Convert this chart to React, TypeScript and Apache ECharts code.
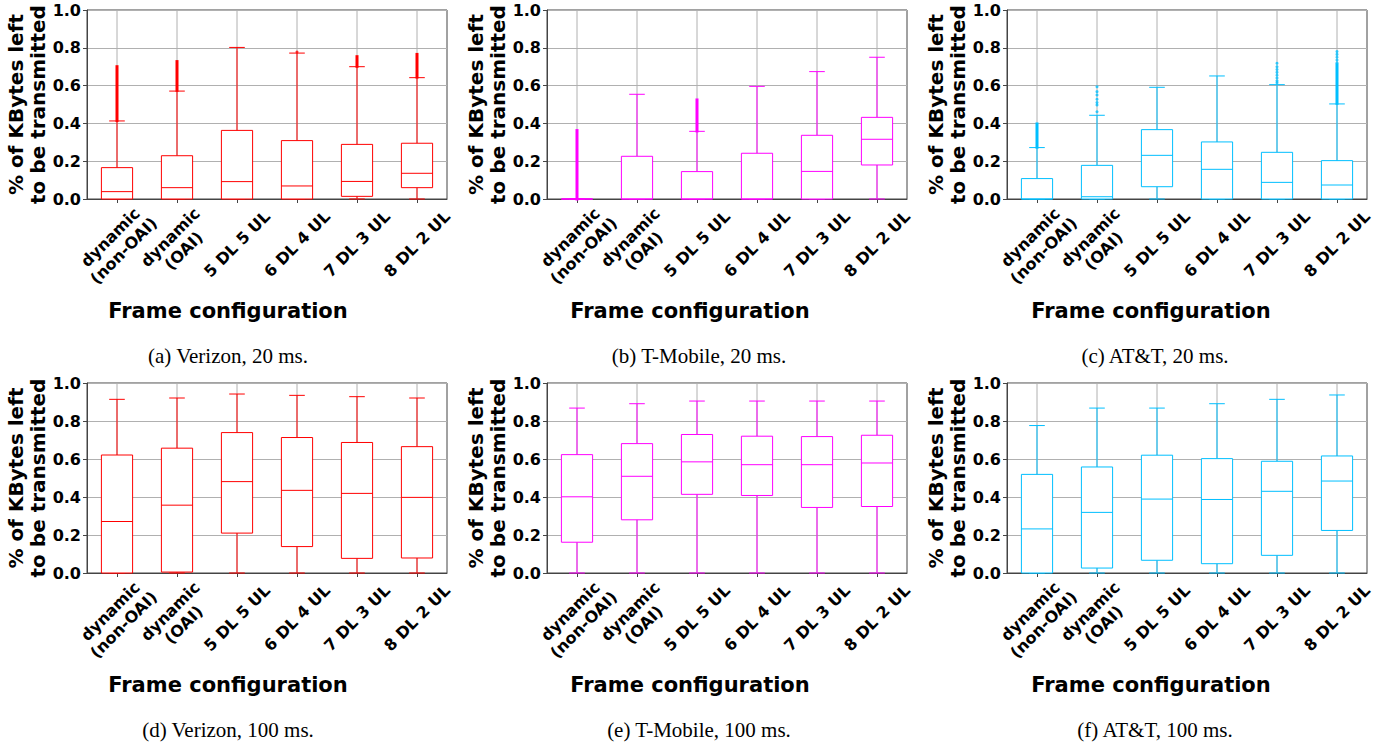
import React, { useEffect, useRef } from "react";
import * as echarts from "echarts";

// ---------- DATA ----------
const categories = [
  "dynamic\n(non-OAI)",
  "dynamic\n(OAI)",
  "5 DL 5 UL",
  "6 DL 4 UL",
  "7 DL 3 UL",
  "8 DL 2 UL",
];
const yAxisTitle = "% of KBytes left\nto be transmitted";
const xAxisTitle = "Frame configuration";

// each row: [lower whisker, Q1, median, Q3, upper whisker]
const verizon20 = [
  [0, 0, 0.039, 0.166, 0.413],
  [0, 0, 0.06, 0.229, 0.571],
  [0, 0, 0.092, 0.363, 0.802],
  [0, 0, 0.069, 0.309, 0.772],
  [0, 0.014, 0.093, 0.289, 0.7],
  [0, 0.06, 0.136, 0.295, 0.642],
];
const tmobile20 = [
  [0, 0, 0, 0, 0],
  [0, 0, 0, 0.226, 0.554],
  [0, 0, 0, 0.145, 0.358],
  [0, 0, 0, 0.242, 0.596],
  [0, 0, 0.146, 0.337, 0.674],
  [0, 0.18, 0.316, 0.432, 0.75],
];
const att20 = [
  [0, 0, 0, 0.108, 0.272],
  [0, 0, 0.012, 0.178, 0.443],
  [0, 0.065, 0.231, 0.367, 0.591],
  [0, 0, 0.157, 0.302, 0.651],
  [0, 0, 0.088, 0.247, 0.605],
  [0, 0, 0.074, 0.203, 0.503],
];
const verizon100 = [
  [0, 0, 0.271, 0.621, 0.914],
  [0, 0.005, 0.357, 0.657, 0.921],
  [0, 0.21, 0.481, 0.739, 0.942],
  [0, 0.139, 0.435, 0.713, 0.935],
  [0, 0.077, 0.419, 0.687, 0.928],
  [0, 0.079, 0.398, 0.665, 0.921],
];
const tmobile100 = [
  [0, 0.162, 0.401, 0.623, 0.868],
  [0, 0.28, 0.509, 0.681, 0.891],
  [0, 0.414, 0.585, 0.729, 0.905],
  [0, 0.408, 0.57, 0.72, 0.905],
  [0, 0.345, 0.57, 0.718, 0.905],
  [0, 0.35, 0.579, 0.725, 0.905],
];
const att100 = [
  [0, 0, 0.232, 0.519, 0.776],
  [0, 0.026, 0.319, 0.558, 0.868],
  [0, 0.067, 0.389, 0.62, 0.868],
  [0, 0.049, 0.387, 0.602, 0.891],
  [0, 0.093, 0.43, 0.588, 0.914],
  [0, 0.224, 0.484, 0.616, 0.937],
];

// dense outlier streaks: [category index, lowest outlier, highest outlier]
const verizon20Streaks = [
  [0, 0.415, 0.7],
  [1, 0.575, 0.727],
  [4, 0.702, 0.753],
  [5, 0.645, 0.765],
];
const tmobile20Streaks = [
  [0, 0.0, 0.362],
  [2, 0.36, 0.524],
];
const att20Streaks = [
  [0, 0.274, 0.397],
  [5, 0.506, 0.71],
];
// sparse single outliers: [category index, value]
const verizon20Dots = [[3, 0.778]];
const att20Dots = [
  [1, 0.462], [1, 0.497], [1, 0.51], [1, 0.528], [1, 0.55], [1, 0.568], [1, 0.594],
  [4, 0.615], [4, 0.625], [4, 0.64], [4, 0.655], [4, 0.67], [4, 0.685], [4, 0.7], [4, 0.718],
  [5, 0.72], [5, 0.735], [5, 0.75], [5, 0.765], [5, 0.78],
];

const captions = [
  "(a) Verizon, 20 ms.",
  "(b) T-Mobile, 20 ms.",
  "(c) AT&T, 20 ms.",
  "(d) Verizon, 100 ms.",
  "(e) T-Mobile, 100 ms.",
  "(f) AT&T, 100 ms.",
];

const RED = "#ff0000";
const MAGENTA = "#ff00ff";
const CYAN = "#00bfff";

const panels = [
  { stats: verizon20, streaks: verizon20Streaks, dots: verizon20Dots, color: RED },
  { stats: tmobile20, streaks: tmobile20Streaks, dots: [], color: MAGENTA },
  { stats: att20, streaks: att20Streaks, dots: att20Dots, color: CYAN },
  { stats: verizon100, streaks: [], dots: [], color: RED },
  { stats: tmobile100, streaks: [], dots: [], color: MAGENTA },
  { stats: att100, streaks: [], dots: [], color: CYAN },
];

// ---------- LAYOUT ----------
const COL_LEFT = [87, 547, 1007];
const PLOT_W = 360;
const ROW_TOP = [10, 383];
const ROW_H = [189, 190];
const XNAME_X = [228, 690, 1151];
const XNAME_Y = [311, 685];
const CAP_X = [228, 699, 1155];
const CAP_Y = [356, 730];
const FONT = "DejaVu Sans";
const AXIS_C = "#444";

export default function App() {
  const ref = useRef<HTMLDivElement>(null);

  useEffect(() => {
    const chart = echarts.init(ref.current!, null, { renderer: "svg" });
    const grids: any[] = [];
    const xAxes: any[] = [];
    const yAxes: any[] = [];
    const series: any[] = [];
    const graphics: any[] = [];

    panels.forEach((p, i) => {
      const col = i % 3;
      const row = Math.floor(i / 3);
      grids.push({
        left: COL_LEFT[col],
        top: ROW_TOP[row],
        width: PLOT_W,
        height: ROW_H[row],
        show: true,
        borderColor: AXIS_C,
        borderWidth: 1,
        backgroundColor: "transparent",
      });
      xAxes.push({
        gridIndex: i,
        type: "category",
        boundaryGap: true,
        data: categories,
        axisLine: { show: true, lineStyle: { color: AXIS_C, width: 1 } },
        axisTick: { show: true, alignWithLabel: true, length: 4, lineStyle: { color: AXIS_C } },
        axisLabel: {
          interval: 0,
          rotate: 45,
          align: "center",
          verticalAlign: "middle",
          margin: 45,
          fontFamily: FONT,
          fontWeight: "bold",
          fontSize: 16,
          lineHeight: 19,
          color: "#000",
        },
        splitLine: { show: false },
      });
      yAxes.push({
        gridIndex: i,
        type: "value",
        min: 0,
        max: 1,
        interval: 0.2,
        axisLine: { show: true, lineStyle: { color: AXIS_C, width: 1 } },
        axisTick: { show: true, length: 4, lineStyle: { color: AXIS_C } },
        axisLabel: {
          formatter: (v: number) => v.toFixed(1),
          fontFamily: FONT,
          fontWeight: "bold",
          fontSize: 16,
          color: "#000",
          margin: 6,
        },
        splitLine: { show: true, lineStyle: { color: "#b0b0b0", width: 1 } },
        name: yAxisTitle,
        nameLocation: "middle",
        nameRotate: 90,
        nameGap: 38,
        nameTextStyle: {
          fontFamily: FONT,
          fontWeight: "bold",
          fontSize: 20,
          lineHeight: 22,
          color: "#000",
        },
      });

      const color = p.color;
      series.push({
        type: "custom",
        xAxisIndex: i,
        yAxisIndex: i,
        z: 2,
        encode: { x: 0, y: [1, 2, 3, 4, 5] },
        data: p.stats.map((s, k) => [k, ...s]),
        renderItem: (params: any, api: any) => {
          const idx = api.value(0);
          const lo = api.value(1);
          const q1 = api.value(2);
          const med = api.value(3);
          const q3 = api.value(4);
          const hi = api.value(5);
          const cx = api.coord([idx, 0])[0];
          const y = (v: number) => api.coord([idx, v])[1];
          const band = api.size([1, 0])[0];
          const bw = band * 0.52;
          const cw = bw / 2;
          const ls = { stroke: color, lineWidth: 1 };
          return {
            type: "group",
            children: [
              {
                type: "line",
                shape: { x1: cx, y1: y(0), x2: cx, y2: y(1) },
                style: { stroke: "#b0b0b0", lineWidth: 1 },
              },
              { type: "line", shape: { x1: cx, y1: y(q3), x2: cx, y2: y(hi) }, style: ls },
              { type: "line", shape: { x1: cx, y1: y(q1), x2: cx, y2: y(lo) }, style: ls },
              { type: "line", shape: { x1: cx - cw / 2, y1: y(hi), x2: cx + cw / 2, y2: y(hi) }, style: ls },
              { type: "line", shape: { x1: cx - cw / 2, y1: y(lo), x2: cx + cw / 2, y2: y(lo) }, style: ls },
              {
                type: "rect",
                shape: { x: cx - bw / 2, y: y(q3), width: bw, height: y(q1) - y(q3) },
                style: { fill: "#fff", stroke: color, lineWidth: 1 },
              },
              { type: "line", shape: { x1: cx - bw / 2, y1: y(med), x2: cx + bw / 2, y2: y(med) }, style: ls },
            ],
          };
        },
      });
      if (p.streaks.length) {
        series.push({
          type: "custom",
          xAxisIndex: i,
          yAxisIndex: i,
          z: 3,
          encode: { x: 0, y: [1, 2] },
          data: p.streaks,
          renderItem: (params: any, api: any) => {
            const idx = api.value(0);
            const lo = api.value(1);
            const hi = api.value(2);
            const cx = api.coord([idx, 0])[0];
            const yl = api.coord([idx, lo])[1];
            const yh = api.coord([idx, hi])[1];
            return {
              type: "rect",
              shape: { x: cx - 1.5, y: yh - 1.5, width: 3, height: yl - yh + 3 },
              style: { fill: color },
            };
          },
        });
      }
      if (p.dots.length) {
        series.push({
          type: "scatter",
          xAxisIndex: i,
          yAxisIndex: i,
          z: 3,
          symbol: "circle",
          symbolSize: 3,
          itemStyle: { color },
          data: p.dots,
        });
      }

      graphics.push({
        type: "text",
        x: XNAME_X[col],
        y: XNAME_Y[row],
        style: {
          text: xAxisTitle,
          fontFamily: FONT,
          fontWeight: "bold",
          fontSize: 21,
          fill: "#000",
          align: "center",
          verticalAlign: "middle",
        },
      });
      graphics.push({
        type: "text",
        x: CAP_X[col],
        y: CAP_Y[row],
        style: {
          text: captions[i],
          fontFamily: "Liberation Serif",
          fontSize: 21,
          fill: "#000",
          align: "center",
          verticalAlign: "middle",
        },
      });
    });

    chart.setOption({
      animation: false,
      backgroundColor: "#fff",
      grid: grids,
      xAxis: xAxes,
      yAxis: yAxes,
      series,
      graphic: graphics,
    });
    return () => chart.dispose();
  }, []);

  return (
    <div
      ref={ref}
      style={{ position: "absolute", left: 0, top: 0, width: 1384, height: 744 }}
    />
  );
}
